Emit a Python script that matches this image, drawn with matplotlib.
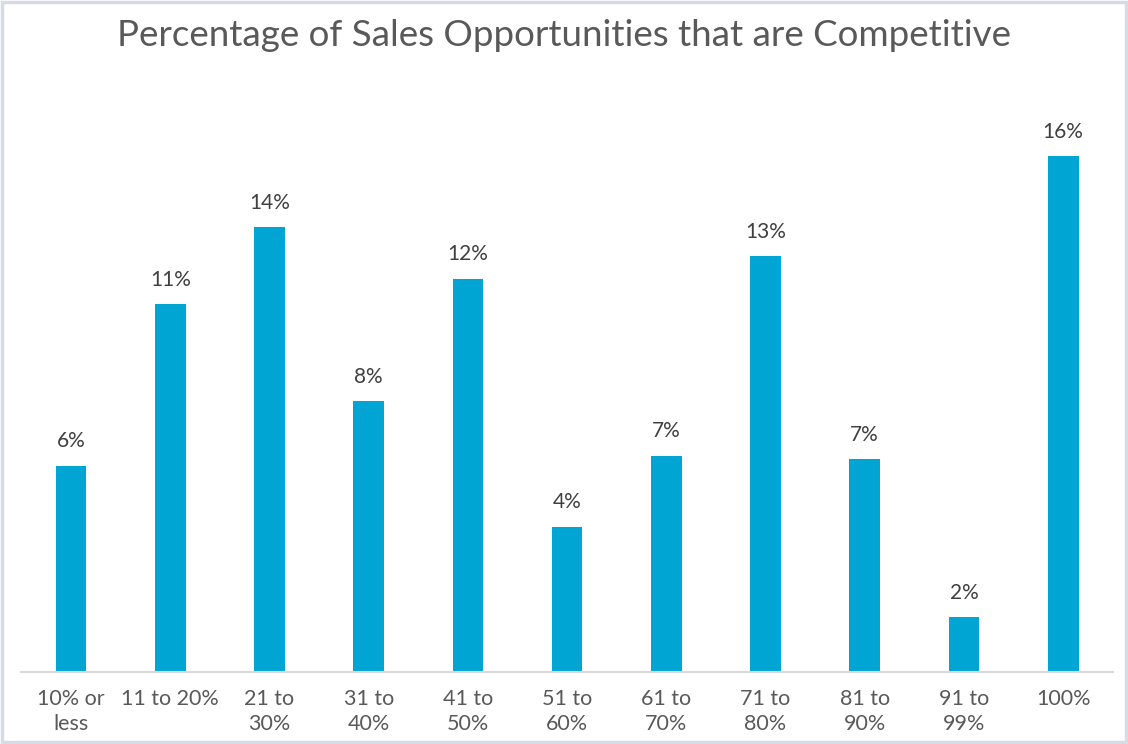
import matplotlib.pyplot as plt
from matplotlib.patches import Rectangle

# categorias e percentuais
faixas = ['10% or\nless', '11 to 20%', '21 to\n30%', '31 to\n40%', '41 to\n50%', '51 to\n60%',
          '61 to\n70%', '71 to\n80%', '81 to\n90%', '91 to\n99%', '100%']
percentuais = [6.4, 11.4, 13.8, 8.4, 12.2, 4.5, 6.7, 12.9, 6.6, 1.7, 16.0]

plt.rcParams['font.family'] = ['Lato', 'DejaVu Sans']

fig = plt.figure(figsize=(11.28, 7.44), dpi=100)
ax = fig.add_axes([0.019, 0.0968, 0.9675, 0.78])

x = range(len(faixas))
barras = ax.bar(x, percentuais, width=0.31, color='#00A5D4', zorder=2)

# rótulos de valor em cima das barras
for b, v in zip(barras, percentuais):
    ax.text(b.get_x() + b.get_width() / 2, v + 0.45, '{:.0f}%'.format(v),
            ha='center', va='bottom', fontsize=15, color='#404040')

ax.set_xlim(-0.5, len(faixas) - 0.5)
ax.set_ylim(0, 18)
ax.set_yticks([])
ax.set_xticks(list(x))
ax.set_xticklabels(faixas, fontsize=15.5, color='#595959', linespacing=1.35)
ax.tick_params(axis='x', length=0, pad=12)
for lado in ['top', 'right', 'left']:
    ax.spines[lado].set_visible(False)
ax.spines['bottom'].set_color('#D9D9D9')
ax.spines['bottom'].set_linewidth(1.5)

fig.suptitle('Percentage of Sales Opportunities that are Competitive',
             y=0.975, fontsize=26.5, color='#595959')

# moldura em volta da figura
fig.patches.append(Rectangle((0.002, 0.003), 0.996, 0.994, transform=fig.transFigure,
                             fill=False, edgecolor='#D6DCE5', linewidth=2.5))

fig.savefig('out.png', dpi=100)
